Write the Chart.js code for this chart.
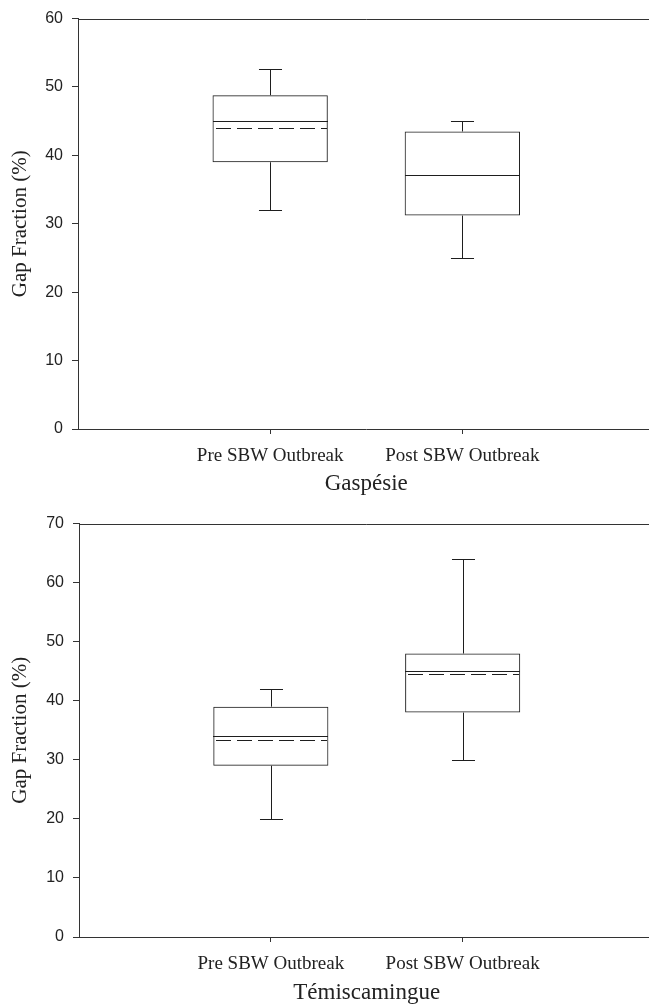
<!DOCTYPE html>
<html><head><meta charset="utf-8">
<script src="https://cdn.jsdelivr.net/npm/chart.js@4/dist/chart.umd.min.js"></script>
<style>
html,body{margin:0;padding:0;background:#fff;overflow:hidden;width:649px;height:1008px;position:relative}
canvas{position:absolute;left:0}
</style></head><body>
<canvas id="c1" width="665" height="505" style="top:0"></canvas>
<canvas id="c2" width="665" height="510" style="top:505px"></canvas>
<script>
// ---- data ----
const categories = ['Pre SBW Outbreak', 'Post SBW Outbreak'];
const yAxisTitle = 'Gap Fraction (%)';

const gaspesieTitle = 'Gaspésie';
const gaspesieMin    = [32, 25];
const gaspesieQ1     = [39, 31.2];
const gaspesieMedian = [45, 37.1];
const gaspesieMean   = [44, 37.1];
const gaspesieQ3     = [48.8, 43.5];
const gaspesieMax    = [52.6, 45];
const gaspesieTicks  = [0, 10, 20, 30, 40, 50, 60];

const temisTitle = 'Témiscamingue';
const temisMin    = [20, 30];
const temisQ1     = [29, 38];
const temisMedian = [34, 45];
const temisMean   = [33.3, 44.5];
const temisQ3     = [39, 48];
const temisMax    = [42, 64];
const temisTicks  = [0, 10, 20, 30, 40, 50, 60, 70];

// ---- drawing ----
const INK = '#1e1e1e';
const AXIS = '#333';

const boxWhiskerPlugin = {
  id: 'boxWhisker',
  afterDatasetsDraw(chart, args, o) {
    const {ctx, chartArea} = chart;
    const x = chart.scales.x, y = chart.scales.y;
    const meta = chart.getDatasetMeta(0);
    const px = v => Math.round(v) + 0.5;
    const line = (x1, y1, x2, y2) => { ctx.beginPath(); ctx.moveTo(x1, y1); ctx.lineTo(x2, y2); ctx.stroke(); };
    ctx.save();
    ctx.strokeStyle = INK;
    ctx.lineWidth = 1;
    o.min.forEach((mn, k) => {
      const bar = meta.data[k + 1];
      const cx = px(x.getPixelForValue(k + 1));
      const left = Math.round(bar.x - bar.width / 2), right = Math.round(bar.x + bar.width / 2);
      const cap = bar.width * 0.1;
      const yMin = px(y.getPixelForValue(mn));
      const yMax = px(y.getPixelForValue(o.max[k]));
      const yQ1 = y.getPixelForValue(o.q1[k]);
      const yQ3 = y.getPixelForValue(o.q3[k]);
      const yMed = px(y.getPixelForValue(o.median[k]));
      const yMean = px(y.getPixelForValue(o.mean[k]));
      line(cx, yQ3, cx, yMax);
      line(cx, yQ1, cx, yMin);
      line(cx - cap, yMax, cx + cap, yMax);
      line(cx - cap, yMin, cx + cap, yMin);
      ctx.setLineDash([15, 6]);
      ctx.lineDashOffset = -2;
      line(left + 1, yMean, right - 1, yMean);
      ctx.setLineDash([]);
      line(left, yMed, right, yMed);
    });
    ctx.strokeStyle = AXIS;
    const t = px(chartArea.top);
    line(chartArea.left, t, chartArea.right, t);
    ctx.restore();
  }
};

function makeChart(id, cfg) {
  const labels = ['', ...categories, ''];
  const boxes = [null, ...cfg.q1.map((q, i) => [q, cfg.q3[i]]), null];
  new Chart(document.getElementById(id), {
    type: 'bar',
    data: {
      labels,
      datasets: [{
        data: boxes,
        backgroundColor: 'rgba(255,255,255,0)',
        borderColor: INK,
        borderWidth: 1,
        borderSkipped: false,
        barPercentage: 0.6,
        categoryPercentage: 1.0
      }]
    },
    options: {
      responsive: false,
      animation: false,
      events: [],
      layout: { padding: { top: cfg.padTop, right: 8, left: 0, bottom: 0 } },
      plugins: {
        legend: { display: false },
        tooltip: { enabled: false },
        boxWhisker: { min: cfg.min, q1: cfg.q1, median: cfg.median, mean: cfg.mean, q3: cfg.q3, max: cfg.max }
      },
      scales: {
        x: {
          type: 'category',
          offset: false,
          grid: {
            offset: false,
            drawOnChartArea: false, drawTicks: true, tickLength: 5,
            color: c => (c.index === 1 || c.index === 2) ? AXIS : 'rgba(0,0,0,0)'
          },
          border: { display: true, color: AXIS, width: 1 },
          ticks: {
            autoSkip: false, maxRotation: 0, padding: 10.5, color: '#222',
            font: { family: '"Liberation Serif", "Times New Roman", serif', size: 19 }
          },
          title: {
            display: true, text: cfg.title, color: '#222',
            font: { family: '"Liberation Serif", "Times New Roman", serif', size: 23 },
            padding: { top: 0, bottom: cfg.titlePad }
          },
          afterFit: s => { s.height = cfg.xHeight; }
        },
        y: {
          min: 0, max: cfg.ticks[cfg.ticks.length - 1],
          afterBuildTicks: s => { s.ticks = cfg.ticks.map(v => ({ value: v })); },
          grid: { drawOnChartArea: false, drawTicks: true, tickLength: 6, color: AXIS },
          border: { display: true, color: AXIS, width: 1 },
          ticks: {
            padding: 9, color: '#222',
            font: { family: '"Liberation Sans", Arial, sans-serif', size: 16 }
          },
          title: {
            display: true, text: yAxisTitle, color: '#222',
            font: { family: '"Liberation Serif", "Times New Roman", serif', size: 21 },
            padding: { top: 7.4, bottom: 0 }
          },
          afterFit: s => { s.width = cfg.yWidth; }
        }
      }
    },
    plugins: [boxWhiskerPlugin]
  });
}

makeChart('c1', {
  title: gaspesieTitle, ticks: gaspesieTicks,
  min: gaspesieMin, q1: gaspesieQ1, median: gaspesieMedian, mean: gaspesieMean, q3: gaspesieQ3, max: gaspesieMax,
  padTop: 14, yWidth: 78, xHeight: 76, titlePad: 7.2
});
makeChart('c2', {
  title: temisTitle, ticks: temisTicks,
  min: temisMin, q1: temisQ1, median: temisMedian, mean: temisMean, q3: temisQ3, max: temisMax,
  padTop: 17.7, yWidth: 79, xHeight: 78, titlePad: 8.2
});
</script>
</body></html>
